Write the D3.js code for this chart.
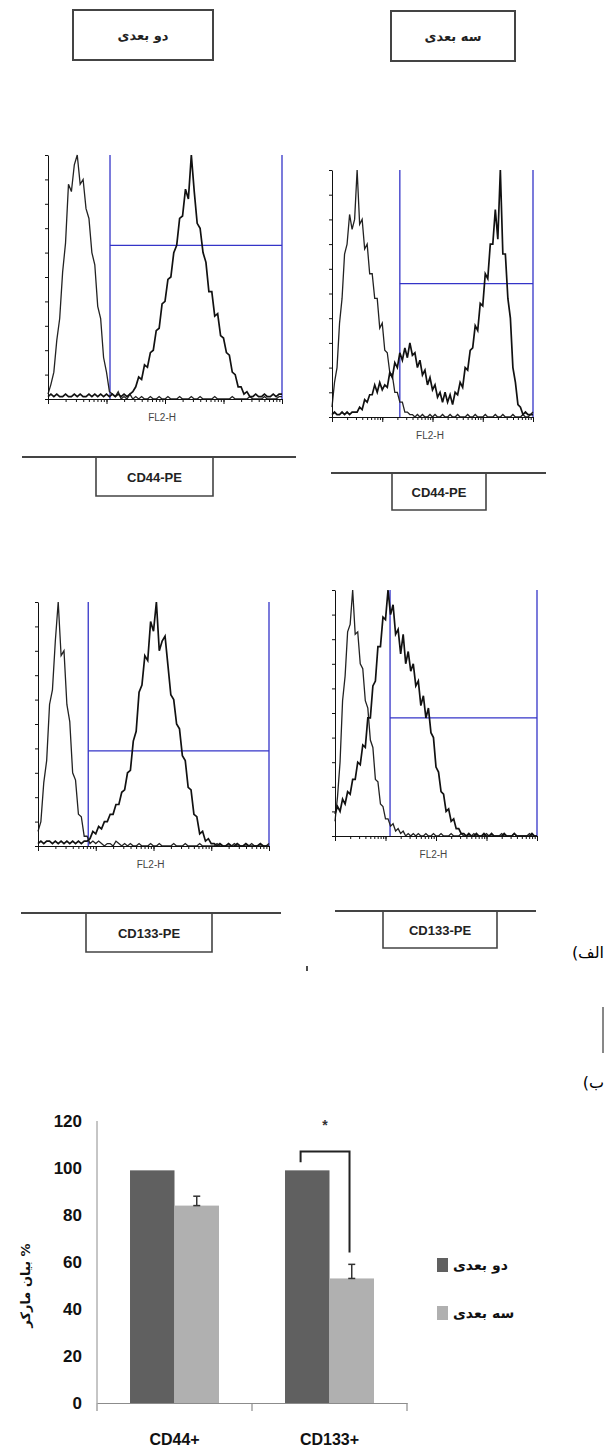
<!DOCTYPE html>
<html>
<head>
<meta charset="utf-8">
<script src="https://cdn.jsdelivr.net/npm/d3@7"></script>
<style>
  body { margin: 0; background: #fff; }
  svg { display: block; }
</style>
</head>
<body>
<div id="chart"></div>
<script>
// ---- flow cytometry histograms (FL2-H, 4 log decades, 0.05 steps) ----
var bins = d3.range(81).map(function(i){ return i * 0.05; });

// top left : 2D, CD44-PE
var h1_ctrl = [2,6,11,24,33,52,64,88,85,96, 100,88,90,78,74,60,55,38,33,17,
  11,3,2,1,3,0,1,0,2,0, 1,0,1,0,0,1,0,0,1,0, 0,1,0,0,0,1,0,0,0,1,
  0,0,1,0,0,0,0,1,0,0, 0,0,0,1,0,0,0,0,0,1, 0,0,0,0,1,0,0,0,0,1, 1];
var h1_stain = [1,2,1,2,1,1,2,1,1,2, 1,2,1,1,2,1,2,1,2,1,
  2,1,2,1,2,1,2,1,2,3, 5,9,8,14,13,19,20,28,29,39, 40,49,50,60,63,74,75,86,82,100,
  85,72,70,60,56,44,44,34,35,26, 25,19,18,11,10,5,5,2,3,1, 1,2,1,1,2,1,1,2,1,2, 2];

// top right : 3D, CD44-PE
var h2_ctrl = [4,14,20,38,48,66,70,82,76,80, 100,78,80,68,70,58,58,48,48,36,
  38,27,26,18,17,10,10,6,6,2, 2,1,1,0,1,0,1,0,0,1, 0,1,0,0,1,0,0,1,0,0,
  1,0,0,0,1,0,0,1,0,0, 0,1,0,0,0,1,0,0,1,0, 0,0,1,0,0,0,1,0,0,1, 2];
var h2_stain = [1,2,1,1,2,1,2,1,2,2, 2,4,3,7,6,9,9,13,10,14,
  11,13,12,18,16,22,20,26,23,28, 24,30,25,26,20,23,17,19,13,16, 11,13,8,10,6,10,6,9,5,10,
  9,14,12,20,19,27,28,37,35,46, 45,58,56,70,70,84,72,100,66,66, 48,40,20,14,5,4,1,2,1,1, 1];

// bottom left : 2D, CD133-PE
var h3_ctrl = [6,10,26,35,58,64,84,100,78,80, 58,51,30,27,13,12,4,4,1,2,
  1,2,1,0,1,1,0,2,1,0, 1,0,1,0,0,1,0,0,0,1, 0,0,1,0,0,0,0,1,0,0,
  0,1,0,0,0,0,1,0,0,0, 0,0,1,0,0,0,0,0,1,0, 0,0,0,0,1,0,0,0,0,0, 1];
var h3_stain = [1,2,1,2,2,1,2,1,2,1, 2,1,2,1,2,1,2,2,3,6,
  5,8,7,10,10,13,13,17,17,22, 23,30,31,43,47,63,66,78,76,92, 88,100,80,84,86,74,62,60,50,48,
  37,35,24,23,13,12,5,6,2,3, 1,1,0,1,0,0,1,0,0,1, 0,0,1,0,0,0,0,1,0,0, 0];

// bottom right : 3D, CD133-PE
var h4_ctrl = [6,16,30,55,65,83,86,100,82,83, 70,68,55,52,39,36,23,22,13,12,
  7,7,4,5,2,3,1,2,0,1, 0,1,0,1,0,0,1,0,0,1, 0,0,1,0,0,0,1,0,0,0,
  1,0,0,0,0,1,0,0,0,0, 1,0,0,0,0,0,1,0,0,0, 0,1,0,0,0,0,0,1,0,0, 0];
var h4_stain = [9,12,10,15,13,18,17,23,23,30, 29,37,36,48,48,61,63,77,77,89,
  88,100,90,94,82,84,74,82,70,75, 67,70,61,63,53,57,48,52,42,40, 28,26,18,17,10,11,6,7,3,3,
  1,1,0,1,0,0,1,0,0,1, 0,0,1,0,0,0,0,1,0,0, 0,1,0,0,0,0,0,0,1,0, 0];

var gateStart = [1.06, 1.35, 0.87, 1.09];   // log10 FL2-H
var gateLevel = [63, 54, 39, 48];           // % of axis height
var markers = ["CD44-PE", "CD44-PE", "CD133-PE", "CD133-PE"];
var cultures = ["دو بعدی", "سه بعدی"];

// ---- bar chart ----
var categories = ["CD44+", "CD133+"];
var twoD = [99, 99];
var threeD = [84, 53];
var threeDErr = [4, 6];
var yTicks = [0, 20, 40, 60, 80, 100, 120];

var svg = d3.select("#chart").append("svg")
    .attr("width", 607)
    .attr("height", 1454);

svg.append("rect").attr("width", 607).attr("height", 1454).attr("fill", "#fff");

// culture headers
var headerBox = [{x0: 73, x1: 213, y0: 10, y1: 60}, {x0: 391, x1: 515, y0: 11, y1: 61}];
headerBox.forEach(function(b, i){
    svg.append("rect")
        .attr("x", b.x0).attr("y", b.y0)
        .attr("width", b.x1 - b.x0).attr("height", b.y1 - b.y0)
        .attr("fill", "#fff").attr("stroke", "#444").attr("stroke-width", 2);
    svg.append("text")
        .attr("x", (b.x0 + b.x1) / 2).attr("y", (b.y0 + b.y1) / 2 + 5)
        .attr("text-anchor", "middle")
        .style("font-family", "DejaVu Sans").style("font-weight", "bold")
        .style("font-size", "13px").attr("fill", "#222")
        .text(cultures[i]);
});

// histogram panels
var panels = [
    {x0: 48, x1: 282, y0: 155, y1: 399, ctrl: h1_ctrl, stain: h1_stain},
    {x0: 332, x1: 533, y0: 170, y1: 417, ctrl: h2_ctrl, stain: h2_stain},
    {x0: 38, x1: 269, y0: 602, y1: 846, ctrl: h3_ctrl, stain: h3_stain},
    {x0: 335, x1: 537, y0: 590, y1: 836, ctrl: h4_ctrl, stain: h4_stain}
];
var markerBox = [
    {l0: 22, l1: 296, y: 457, b0: 96, b1: 213, by: 496},
    {l0: 331, l1: 546, y: 473, b0: 392, b1: 486, by: 510},
    {l0: 21, l1: 281, y: 913, b0: 86, b1: 212, by: 952},
    {l0: 335, l1: 536, y: 911, b0: 383, b1: 497, by: 948}
];

var minorLogs = [];
for (var d = 0; d < 4; d++)
    for (var k = 1; k < 10; k++)
        minorLogs.push(d + Math.log10(k));
minorLogs.push(4);

panels.forEach(function(p, i){
    var x = d3.scaleLinear().domain([0, 4]).range([p.x0, p.x1]);
    var y = d3.scaleLinear().domain([0, 100]).range([p.y1, p.y0]);
    var g = svg.append("g");

    // gate
    var blue = "#3434c8";
    g.append("line").attr("x1", x(gateStart[i])).attr("x2", x(gateStart[i]))
        .attr("y1", y(100)).attr("y2", y(0)).attr("stroke", blue).attr("stroke-width", 1.3);
    g.append("line").attr("x1", x(4)).attr("x2", x(4))
        .attr("y1", y(100)).attr("y2", y(0)).attr("stroke", blue).attr("stroke-width", 1.3);
    g.append("line").attr("x1", x(gateStart[i])).attr("x2", x(4))
        .attr("y1", y(gateLevel[i])).attr("y2", y(gateLevel[i]))
        .attr("stroke", blue).attr("stroke-width", 1.3);

    var line = d3.line()
        .x(function(v, j){ return x(bins[j]); })
        .y(function(v){ return y(v); });

    g.append("path").datum(p.ctrl).attr("d", line)
        .attr("fill", "none").attr("stroke", "#222").attr("stroke-width", 1.3);
    g.append("path").datum(p.stain).attr("d", line)
        .attr("fill", "none").attr("stroke", "#111").attr("stroke-width", 1.7);

    // axes
    g.append("g").attr("transform", "translate(" + p.x0 + ",0)")
        .call(d3.axisLeft(y).tickValues(d3.range(0, 101, 10)).tickSize(3).tickSizeOuter(0).tickFormat(""));
    g.append("g").attr("transform", "translate(0," + p.y1 + ")")
        .call(d3.axisBottom(x).tickValues(minorLogs).tickSize(3).tickSizeOuter(0).tickFormat(""));
    g.append("g").attr("transform", "translate(0," + p.y1 + ")")
        .call(d3.axisBottom(x).tickValues([0, 1, 2, 3, 4]).tickSize(5).tickSizeOuter(0).tickFormat(""))
        .select(".domain").remove();
    g.selectAll(".domain, .tick line").attr("stroke", "#111");

    g.append("text")
        .attr("x", x(1.95)).attr("y", p.y1 + 22)
        .attr("text-anchor", "middle")
        .style("font-family", "Liberation Sans").style("font-size", "10px")
        .attr("fill", "#444")
        .text("FL2-H");

    // marker label
    var m = markerBox[i];
    svg.append("line").attr("x1", m.l0).attr("x2", m.l1).attr("y1", m.y).attr("y2", m.y)
        .attr("stroke", "#444").attr("stroke-width", 2);
    svg.append("path")
        .attr("d", "M" + m.b0 + "," + m.y + "V" + m.by + "H" + m.b1 + "V" + m.y)
        .attr("fill", "none").attr("stroke", "#444").attr("stroke-width", 1.6);
    svg.append("text")
        .attr("x", (m.b0 + m.b1) / 2).attr("y", (m.y + m.by) / 2 + 5)
        .attr("text-anchor", "middle")
        .style("font-family", "Liberation Sans Narrow, Liberation Sans").style("font-weight", "bold")
        .style("font-size", "13px").attr("fill", "#222")
        .text(markers[i]);
});

// part labels
svg.append("text").attr("x", 604).attr("y", 958)
    .attr("direction", "rtl").attr("text-anchor", "start")
    .style("font-family", "DejaVu Sans").style("font-size", "16px")
    .text("الف)");
svg.append("text").attr("x", 604).attr("y", 1088)
    .attr("direction", "rtl").attr("text-anchor", "start")
    .style("font-family", "DejaVu Sans").style("font-size", "16px")
    .text("ب)");
svg.append("line").attr("x1", 603).attr("x2", 603).attr("y1", 1007).attr("y2", 1053)
    .attr("stroke", "#111").attr("stroke-width", 1);
svg.append("line").attr("x1", 307).attr("x2", 307).attr("y1", 966).attr("y2", 971)
    .attr("stroke", "#111").attr("stroke-width", 1.5);

// ---- grouped bar chart ----
var colors = ["#606060", "#b0b0b0"];
var bx = d3.scaleBand().domain(categories).range([97, 407])
    .paddingInner(0.426).paddingOuter(0.213);
var bxSub = d3.scaleBand().domain(cultures).range([0, bx.bandwidth()]);
var by = d3.scaleLinear().domain([0, 120]).range([1403, 1121]);

var bars = svg.append("g");
bars.selectAll("g")
    .data(categories)
    .enter().append("g")
    .attr("transform", function(c){ return "translate(" + bx(c) + ",0)"; })
    .selectAll("rect")
    .data(function(c, i){ return [{key: cultures[0], value: twoD[i]}, {key: cultures[1], value: threeD[i]}]; })
    .enter().append("rect")
    .attr("x", function(d){ return bxSub(d.key); })
    .attr("y", function(d){ return by(d.value); })
    .attr("width", bxSub.bandwidth())
    .attr("height", function(d){ return by(0) - by(d.value); })
    .attr("fill", function(d, j){ return colors[j]; });

// error bars (upper only)
categories.forEach(function(c, i){
    var cx = bx(c) + bxSub(cultures[1]) + bxSub.bandwidth() / 2;
    var e = svg.append("g").attr("stroke", "#333").attr("stroke-width", 1.5);
    e.append("line").attr("x1", cx).attr("x2", cx)
        .attr("y1", by(threeD[i])).attr("y2", by(threeD[i] + threeDErr[i]));
    [threeD[i], threeD[i] + threeDErr[i]].forEach(function(v){
        e.append("line").attr("x1", cx - 3.5).attr("x2", cx + 3.5)
            .attr("y1", by(v)).attr("y2", by(v));
    });
});

// y axis
var yAxis = svg.append("g").attr("transform", "translate(97,0)")
    .call(d3.axisLeft(by).tickValues(yTicks).tickSize(0).tickPadding(15));
yAxis.select(".domain").attr("stroke", "#8c8c8c").attr("d", "M0," + by(120) + "V" + by(0));
yAxis.selectAll("text")
    .style("font-family", "Liberation Sans").style("font-weight", "bold")
    .style("font-size", "17px").attr("fill", "#111");

// x axis
var xAxis = svg.append("g").attr("transform", "translate(0," + by(0) + ")")
    .call(d3.axisBottom(bx).tickSize(0).tickSizeOuter(0).tickPadding(31));
xAxis.select(".domain").attr("stroke", "#8c8c8c").attr("stroke-width", 1.2);
xAxis.selectAll("text")
    .style("font-family", "Liberation Sans Narrow, Liberation Sans").style("font-weight", "bold")
    .style("font-size", "16px").attr("fill", "#111");
d3.range(categories.length + 1).forEach(function(k){
    var tx = bx.range()[0] + k * bx.step();
    svg.append("line").attr("x1", tx).attr("x2", tx)
        .attr("y1", by(0)).attr("y2", by(0) + 8)
        .attr("stroke", "#8c8c8c").attr("stroke-width", 1.2);
});

// y title
svg.append("text")
    .attr("transform", "translate(30," + by(50) + ") rotate(-90)")
    .attr("text-anchor", "middle")
    .style("font-family", "DejaVu Sans").style("font-weight", "bold")
    .style("font-size", "13px").attr("fill", "#111")
    .text("بیان مارکر %");

// significance bracket
var xl = bx("CD133+") + bxSub(cultures[0]) + bxSub.bandwidth() * 0.35;
var xr = bx("CD133+") + bxSub(cultures[1]) + bxSub.bandwidth() * 0.45;
svg.append("path")
    .attr("d", "M" + xl + "," + by(102.5) + "V" + by(107) + "H" + xr + "V" + by(64))
    .attr("fill", "none").attr("stroke", "#222").attr("stroke-width", 2);
svg.append("text")
    .attr("x", (xl + xr) / 2).attr("y", by(116))
    .attr("text-anchor", "middle")
    .style("font-family", "Liberation Sans").style("font-weight", "bold")
    .style("font-size", "14px").attr("fill", "#333")
    .text("*");

// legend
var legend = svg.append("g").attr("transform", "translate(437,1258)");
cultures.forEach(function(name, i){
    legend.append("rect").attr("x", 0).attr("y", i * 48)
        .attr("width", 11).attr("height", 14).attr("fill", colors[i]);
    legend.append("text").attr("x", 16).attr("y", i * 48 + 12)
        .style("font-family", "DejaVu Sans").style("font-weight", "bold")
        .style("font-size", "14px").attr("fill", "#111")
        .text(name);
});
</script>
</body>
</html>
